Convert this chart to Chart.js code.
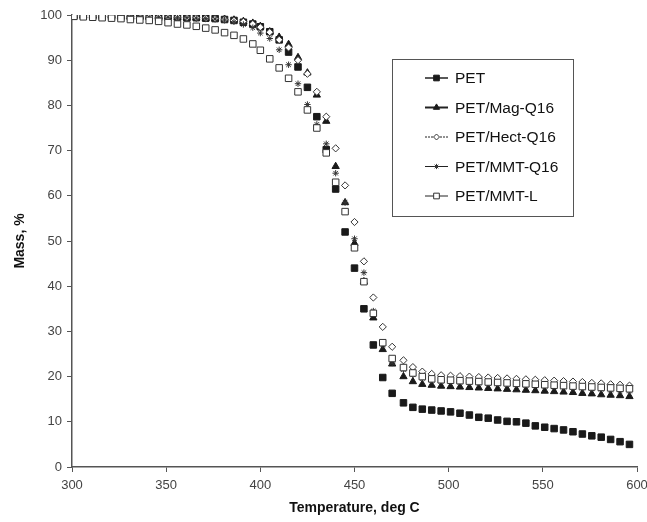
<!DOCTYPE html>
<html>
<head>
<meta charset="utf-8">
<script src="https://cdn.jsdelivr.net/npm/chart.js@4.4.1/dist/chart.umd.min.js"></script>
<style>
  html, body { margin: 0; padding: 0; background: #fff; }
  #wrap { width: 647px; height: 522px; }
</style>
</head>
<body>
<div id="wrap"><canvas id="chart" width="647" height="522"></canvas></div>
<script>
// temperatures (deg C) of the readings, same for every sample
const temps = [301, 306, 311, 316, 321, 326, 331, 336, 341, 346, 351, 356, 361, 366, 371, 376, 381, 386, 391, 396,
  400, 405, 410, 415, 420, 425, 430, 435, 440, 445, 450, 455, 460, 465, 470,
  476, 481, 486, 491, 496, 501, 506, 511, 516, 521, 526, 531, 536, 541, 546, 551, 556, 561, 566, 571, 576, 581, 586, 591, 596];

const seriesNames = ['PET', 'PET/Mag-Q16', 'PET/Hect-Q16', 'PET/MMT-Q16', 'PET/MMT-L'];

const massPET = [99.8, 99.8, 99.8, 99.7, 99.7, 99.7, 99.6, 99.6, 99.6, 99.5, 99.5, 99.5, 99.4, 99.4, 99.3, 99.2, 99.0, 98.8, 98.4, 98.0,
  97.4, 96.3, 94.5, 91.8, 88.5, 84.0, 77.5, 70.2, 61.5, 52.0, 44.0, 35.0, 27.0, 19.8, 16.3,
  14.2, 13.2, 12.8, 12.6, 12.4, 12.2, 11.9, 11.5, 11.0, 10.8, 10.4, 10.1, 10.0, 9.7, 9.1, 8.8, 8.5, 8.2, 7.8, 7.3, 6.9, 6.6, 6.1, 5.6, 5.0];

const massMag = [99.9, 99.9, 99.8, 99.8, 99.8, 99.7, 99.7, 99.7, 99.6, 99.6, 99.6, 99.5, 99.5, 99.4, 99.3, 99.2, 99.1, 98.9, 98.6, 98.2,
  97.5, 96.3, 95.1, 93.5, 90.6, 87.2, 82.3, 76.5, 66.5, 58.5, 49.5, 41.0, 33.0, 26.0, 22.8,
  20.0, 18.9, 18.3, 18.1, 17.9, 17.8, 17.7, 17.6, 17.5, 17.4, 17.3, 17.2, 17.1, 17.0, 16.9, 16.8, 16.7, 16.6, 16.5, 16.3, 16.2, 16.0, 15.9, 15.8, 15.6];

const massHect = [99.8, 99.8, 99.8, 99.7, 99.7, 99.7, 99.6, 99.6, 99.6, 99.5, 99.5, 99.5, 99.4, 99.4, 99.3, 99.2, 99.0, 98.8, 98.5, 98.0,
  97.3, 96.2, 94.5, 92.8, 90.0, 87.0, 83.0, 77.5, 70.5, 62.3, 54.2, 45.5, 37.5, 31.0, 26.6,
  23.6, 22.1, 21.1, 20.6, 20.3, 20.2, 20.1, 20.0, 19.9, 19.8, 19.7, 19.6, 19.5, 19.4, 19.3, 19.2, 19.1, 19.0, 18.9, 18.8, 18.6, 18.5, 18.3, 18.2, 18.0];

const massMMTQ = [99.8, 99.8, 99.8, 99.7, 99.7, 99.7, 99.6, 99.6, 99.5, 99.5, 99.5, 99.4, 99.4, 99.3, 99.2, 99.1, 98.9, 98.5, 97.9, 97.2,
  96.0, 94.8, 92.3, 89.0, 84.8, 80.2, 75.8, 71.5, 65.0, 58.5, 50.5, 43.0, 34.5, 27.0, 23.0,
  21.5, 20.4, 19.6, 19.2, 19.0, 18.9, 18.8, 18.7, 18.6, 18.5, 18.4, 18.3, 18.2, 18.1, 18.0, 17.9, 17.8, 17.7, 17.6, 17.5, 17.3, 17.2, 17.0, 16.9, 16.8];

const massMMTL = [99.7, 99.6, 99.5, 99.4, 99.3, 99.2, 99.0, 98.9, 98.8, 98.6, 98.3, 98.0, 97.8, 97.5, 97.1, 96.7, 96.1, 95.5, 94.7, 93.6,
  92.2, 90.3, 88.3, 86.0, 83.0, 79.0, 75.0, 69.5, 63.0, 56.5, 48.5, 41.0, 34.0, 27.5, 24.0,
  22.0, 20.8, 20.0, 19.5, 19.3, 19.2, 19.1, 19.0, 18.9, 18.8, 18.7, 18.6, 18.5, 18.4, 18.3, 18.2, 18.1, 18.0, 17.9, 17.8, 17.7, 17.6, 17.5, 17.4, 17.3];

const xTicks = [300, 350, 400, 450, 500, 550, 600];
const yTicks = [0, 10, 20, 30, 40, 50, 60, 70, 80, 90, 100];

const allMass = [massPET, massMag, massHect, massMMTQ, massMMTL];

// marker look per series, also used by the legend
const markers = [
  { pointStyle: 'rect', radius: 4.6, fill: '#1a1a1a', border: '#1a1a1a', bw: 1, lineW: 1.5, dash: [] },
  { pointStyle: 'triangle', radius: 4.2, fill: '#1a1a1a', border: '#1a1a1a', bw: 1, lineW: 2, dash: [] },
  { pointStyle: 'rectRot', radius: 3.6, fill: '#ffffff', border: '#333', bw: 1, lineW: 1, dash: [2, 1] },
  { pointStyle: 'star', radius: 3.2, fill: '#ffffff', border: '#333', bw: 1, lineW: 1, dash: [] },
  { pointStyle: 'rect', radius: 4.6, fill: '#ffffff', border: '#333', bw: 1, lineW: 1, dash: [] },
];

function toPoints(masses) {
  const pts = [];
  for (let i = 0; i < temps.length; i++) {
    pts.push({ x: temps[i], y: masses[i] });
  }
  return pts;
}

const datasets = [];
for (let i = 0; i < seriesNames.length; i++) {
  const m = markers[i];
  datasets.push({
    label: seriesNames[i],
    data: toPoints(allMass[i]),
    showLine: false,
    pointStyle: m.pointStyle,
    pointRadius: m.radius,
    pointBackgroundColor: m.fill,
    pointBorderColor: m.border,
    pointBorderWidth: m.bw,
    order: seriesNames.length - i, // later series drawn on top, as in the original
  });
}

// legend drawn by hand: line + marker + name, in a framed box
const boxLegend = {
  id: 'boxLegend',
  afterDraw(chart) {
    const ctx = chart.ctx;
    const bx = 392, by = 59, bw = 181, bh = 157;
    ctx.save();
    ctx.strokeStyle = '#555';
    ctx.lineWidth = 1;
    ctx.strokeRect(bx + 0.5, by + 0.5, bw, bh);
    ctx.font = '15.5px "Liberation Sans", Arial, sans-serif';
    ctx.textBaseline = 'middle';
    ctx.fillStyle = '#111';
    for (let i = 0; i < seriesNames.length; i++) {
      const m = markers[i];
      const ry = 78 + i * 29.5;
      ctx.strokeStyle = '#222';
      ctx.lineWidth = m.lineW;
      ctx.setLineDash(m.dash);
      ctx.beginPath();
      ctx.moveTo(425, ry);
      ctx.lineTo(448, ry);
      ctx.stroke();
      ctx.setLineDash([]);
      ctx.fillStyle = m.fill;
      ctx.strokeStyle = m.border;
      ctx.lineWidth = m.bw;
      Chart.helpers.drawPoint(ctx, { pointStyle: m.pointStyle, radius: m.radius - 0.6, rotation: 0, borderWidth: m.bw }, 436.5, ry);
      ctx.fillStyle = '#111';
      ctx.fillText(seriesNames[i], 455, ry + 1);
    }
    ctx.restore();
  }
};

const tickFont = { family: '"Liberation Sans", Arial, sans-serif', size: 13 };
const titleFont = { family: '"Liberation Sans", Arial, sans-serif', size: 14, weight: 'bold' };

new Chart(document.getElementById('chart').getContext('2d'), {
  type: 'scatter',
  data: { datasets: datasets },
  options: {
    responsive: false,
    animation: false,
    layout: { padding: { top: 15, right: 10, bottom: 0, left: 0 } },
    plugins: { legend: { display: false }, tooltip: { enabled: false } },
    scales: {
      x: {
        type: 'linear',
        min: 300,
        max: 600,
        afterBuildTicks(scale) { scale.ticks = xTicks.map(v => ({ value: v })); },
        afterFit(scale) { scale.height = 55; scale.paddingLeft = 0; scale.paddingRight = 0; },
        grid: { drawOnChartArea: false, drawTicks: true, tickLength: 5, color: '#555', lineWidth: 1 },
        border: { display: true, color: '#555', width: 1.5 },
        ticks: { color: '#444', font: tickFont, padding: 6, maxRotation: 0 },
        title: { display: true, text: 'Temperature, deg C', color: '#111', font: titleFont, padding: { top: 0, bottom: 5 } },
      },
      y: {
        type: 'linear',
        min: 0,
        max: 100,
        afterBuildTicks(scale) { scale.ticks = yTicks.map(v => ({ value: v })); },
        afterFit(scale) { scale.width = 72; scale.paddingTop = 0; scale.paddingBottom = 0; },
        grid: { drawOnChartArea: false, drawTicks: true, tickLength: 5, color: '#555', lineWidth: 1 },
        border: { display: true, color: '#555', width: 1.5 },
        ticks: { color: '#444', font: tickFont, padding: 5 },
        title: { display: true, text: 'Mass, %', color: '#111', font: titleFont, padding: { top: 12, bottom: 0 } },
      },
    },
  },
  plugins: [boxLegend],
});
</script>
</body>
</html>
